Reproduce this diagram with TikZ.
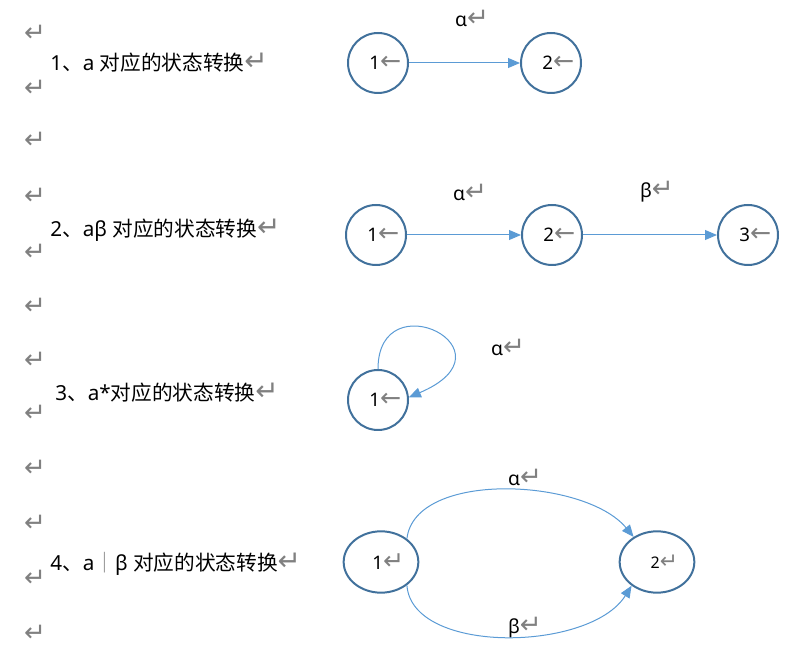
\documentclass[tikz,border=0pt]{standalone}
\usepackage{fontspec}
\setmainfont{Noto Sans}
\newfontfamily\cjk{Noto Sans CJK SC}
\newfontfamily\symf[Scale=1.35]{DejaVu Sans}
\usetikzlibrary{arrows.meta,shapes.geometric}
\definecolor{circ}{HTML}{41719C}
\definecolor{arr}{HTML}{5B9BD5}
\definecolor{markc}{HTML}{808080}
\newcommand{\rmk}{{\symf\color{markc}↵}}
\newcommand{\lmk}{{\symf\color{markc}←}}
\newcommand{\slab}[2]{\raisebox{-3pt}{\hspace*{11pt}#1#2}}
\begin{document}
\begin{tikzpicture}[x=0.75pt,y=-0.75pt,
 state/.style={circle,draw=circ,line width=1.5pt,minimum size=45pt,inner sep=0pt,font=\fontsize{14}{16}\selectfont},
 estate/.style={ellipse,draw=circ,line width=1.5pt,minimum width=56pt,minimum height=46pt,inner sep=0pt,font=\fontsize{14}{16}\selectfont},
 trans/.style={draw=arr,line width=0.75pt,-{Triangle[length=9pt,width=7.5pt]}},
 para/.style={anchor=west,font=\fontsize{15.5}{18}\selectfont,inner sep=0pt},
 rm/.style={font=\symf\fontsize{14.5}{17}\selectfont,text=markc,inner sep=0pt},
 lab/.style={font=\fontsize{14.5}{17}\selectfont,inner sep=0pt}]
\useasboundingbox (0,0) rectangle (811,666);

% left column return marks
\node[rm] (r1) at (35,33) {↵};
\node[rm] (r2) at (35,88) {↵};
\node[rm] (r3) at (35,140) {↵};
\node[rm] (r4) at (35,196) {↵};
\node[rm] (r5) at (35,252) {↵};
\node[rm] (r6) at (35,306) {↵};
\node[rm] (r7) at (35,360) {↵};
\node[rm] (r8) at (35,413) {↵};
\node[rm] (r9) at (35,468) {↵};
\node[rm] (r10) at (35,523) {↵};
\node[rm] (r11) at (35,578) {↵};
\node[rm] (r12) at (35,633) {↵};

% paragraph texts
\node[para] (p1) at (50,63) {1{\cjk 、}a {\cjk 对应的状态转换}\rmk};
\node[para] (p2) at (50,230) {2{\cjk 、}aβ {\cjk 对应的状态转换}\rmk};
\node[para] (p3) at (55,393) {3{\cjk 、}a*{\cjk 对应的状态转换}\rmk};
\node[para] (p4) at (50,564) {4{\cjk 、}a{\cjk\color{markc}｜}β {\cjk 对应的状态转换}\rmk};

% diagram 1
\node[state] (a1) at (378,63) {\slab{1}{\lmk}};
\node[state] (a2) at (551,63) {\slab{2}{\lmk}};
\node[lab] (la1) at (472,18) {α\rmk};
\draw[trans] (a1.east) -- (a2.west);

% diagram 2
\node[state] (b1) at (376,235) {\slab{1}{\lmk}};
\node[state] (b2) at (552,235) {\slab{2}{\lmk}};
\node[state] (b3) at (748,235) {\slab{3}{\lmk}};
\node[lab] (lb1) at (470,192) {α\rmk};
\node[lab] (lb2) at (657,192) {β\rmk};
\draw[trans] (b1.east) -- (b2.west);
\draw[trans] (b2.east) -- (b3.west);

% diagram 3
\node[state] (c1) at (378,400) {\slab{1}{\lmk}};
\node[lab] (lc1) at (508,347) {α\rmk};
\draw[trans] (c1.north) .. controls (378,280) and (520,350) .. (c1.5);

% diagram 4
\node[estate] (d1) at (381,562) {\slab{1}{\rmk}};
\node[estate,font=\fontsize{12}{14}\selectfont] (d2) at (657,562) {\slab{2}{\rmk}};
\node[lab] (ld1) at (525,477) {α\rmk};
\node[lab] (ld2) at (525,628) {β\rmk};
\draw[trans] (d1.42) .. controls (415,470) and (585,478) .. (d2.133);
\draw[trans] (d1.-42) .. controls (412,655) and (590,652) .. (d2.223);
\end{tikzpicture}
\end{document}
